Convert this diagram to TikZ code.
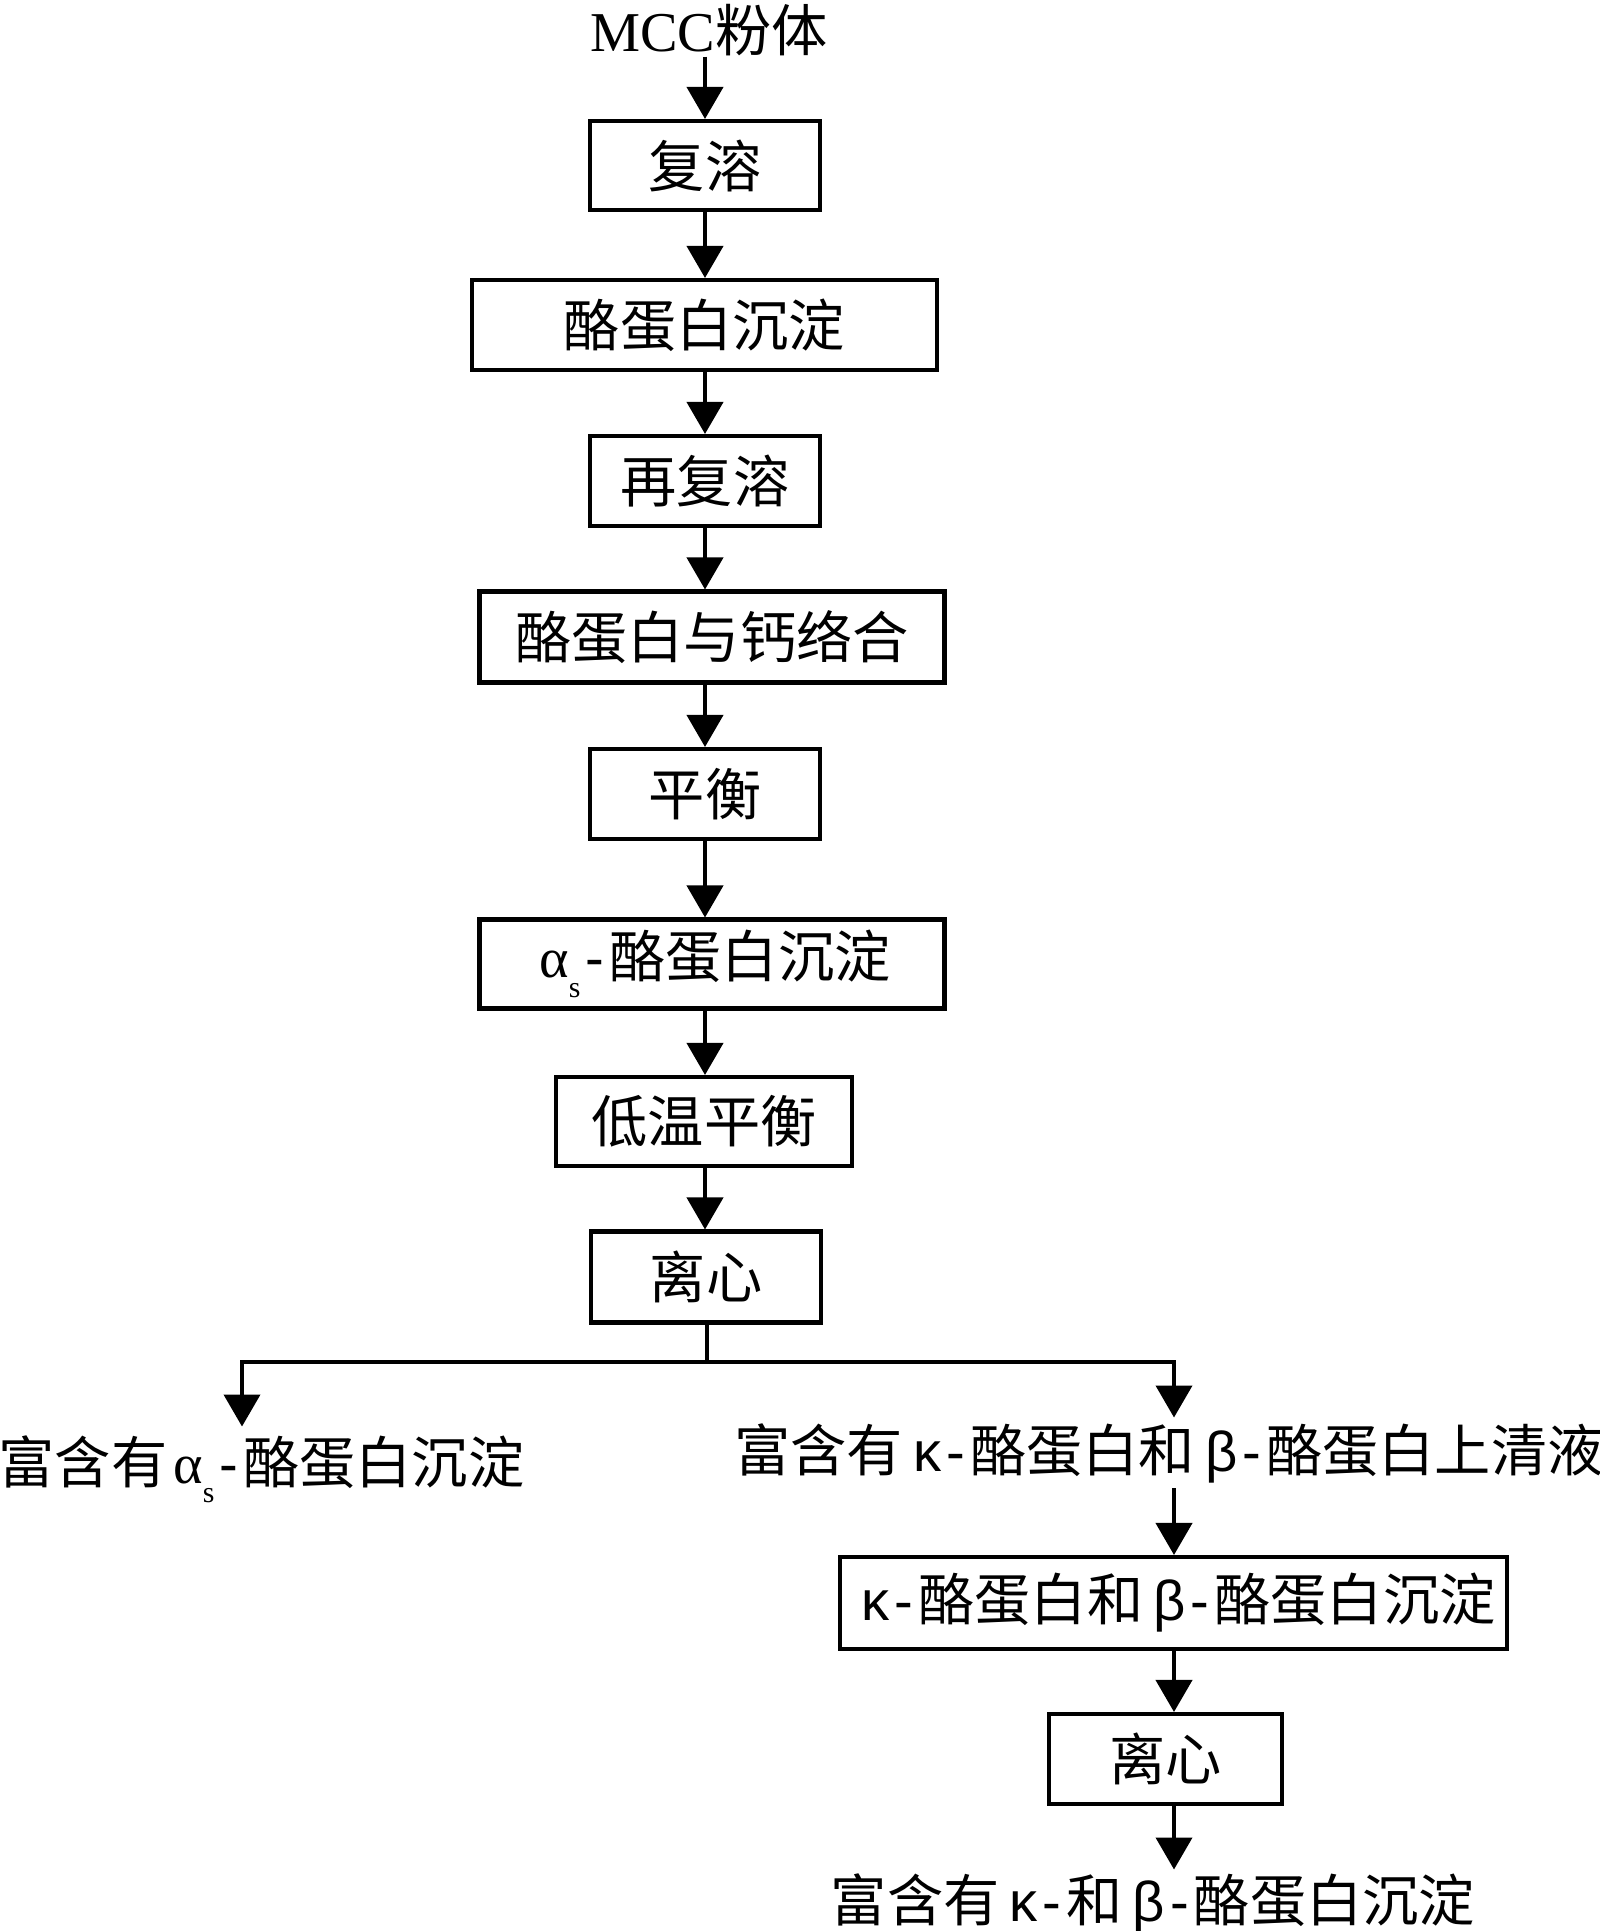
\documentclass[tikz,border=0pt]{standalone}
\usepackage{fontspec}
\usepackage{tikz}
\usetikzlibrary{arrows.meta}
\setmainfont{Liberation Serif}
\newfontfamily\cjk{Noto Sans CJK SC}
\newfontfamily\grk{Liberation Sans}
\newcommand{\galphas}{{\rmfamily\kern0.06cm α\raisebox{-5.5pt}{\fontsize{8.5}{8.5}\selectfont s}\kern0.05cm}{\grk -\kern0.05cm}}
\newcommand{\gkappa}{{\grk\kern0.1cm κ\kern0.05cm-\kern0.05cm}}
\newcommand{\gbeta}{{\grk\kern0.1cm β\kern0.05cm-\kern0.05cm}}

\begin{document}
\begin{tikzpicture}[every node/.style={inner sep=0pt, font=\fontsize{16}{18}\selectfont\cjk}, box/.style={rectangle, draw=black, line width=1.15pt}, arr/.style={draw=black, line width=1.15pt, -{Triangle[width=0.36cm,length=0.32cm]}}]
			\useasboundingbox (0,0) rectangle (15.99,-19.31);
			\coordinate (c) at (7.05,-0.6);
			
			\node (mcc) at (7.09,-0.30){{\rmfamily MCC}粉体};
			\node[box, minimum width=2.30cm, minimum height=0.89cm] (fr) at (7.05,-1.655){复溶};
			\node[box, minimum width=4.65cm, minimum height=0.90cm] (cd) at (7.045,-3.25){酪蛋白沉淀};
			\node[box, minimum width=2.30cm, minimum height=0.90cm] (zfr) at (7.05,-4.81){再复溶};
			\node[box, minimum width=4.65cm, minimum height=0.91cm] (gl) at (7.12,-6.37){酪蛋白与钙络合};
			\node[box, minimum width=2.30cm, minimum height=0.90cm] (ph) at (7.05,-7.94){平衡};
			\node[box, minimum width=4.65cm, minimum height=0.89cm] (as) at (7.12,-9.64){\galphas 酪蛋白沉淀};
			\node[box, minimum width=2.96cm, minimum height=0.89cm] (dw) at (7.04,-11.215){低温平衡};
			\node[box, minimum width=2.30cm, minimum height=0.91cm] (lx) at (7.06,-12.77){离心};
			
			\draw[arr] (mcc.south -| c) -- (fr.north -| c);
			\draw[arr] (fr.south -| c) -- (cd.north -| c);
			\draw[arr] (cd.south -| c) -- (zfr.north -| c);
			\draw[arr] (zfr.south -| c) -- (gl.north -| c);
			\draw[arr] (gl.south -| c) -- (ph.north -| c);
			\draw[arr] (ph.south -| c) -- (as.north -| c);
			\draw[arr] (as.south -| c) -- (dw.north -| c);
			\draw[arr] (dw.south -| c) -- (lx.north -| c);
			
			\coordinate (sp) at (7.07,-13.62);
			\coordinate (l) at (2.42,-13.62);
			\coordinate (r) at (11.74,-13.62);
			
			\node[anchor=base west, inner ysep=0.08cm] (lt) at (-0.02,-14.83){富含有\galphas 酪蛋白沉淀};
			\node[anchor=base, inner ysep=0.05cm] (rt) at (11.69,-14.71){富含有\gkappa 酪蛋白和\gbeta 酪蛋白上清液};
			\node[box, minimum width=6.67cm, minimum height=0.92cm] (kb) at (11.735,-16.03){\gkappa 酪蛋白和\gbeta 酪蛋白沉淀};
			\node[box, minimum width=2.33cm, minimum height=0.90cm] (lx2) at (11.655,-17.59){离心};
			\node[anchor=base, inner ysep=0.03cm] (bt) at (11.53,-19.21){富含有\gkappa 和\gbeta 酪蛋白沉淀};
			
			\draw[line width=1.15pt] (lx.south -| sp) -- (sp);
			\draw[arr] (sp) -| (l |- lt.north);
			\draw[arr] (sp) -| (r |- rt.north);
			\draw[arr] (rt.south -| r) -- (kb.north -| r);
			\draw[arr] (kb.south -| r) -- (lx2.north -| r);
			\draw[arr] (lx2.south -| r) -- (bt.north -| r);
\end{tikzpicture}
\end{document}
